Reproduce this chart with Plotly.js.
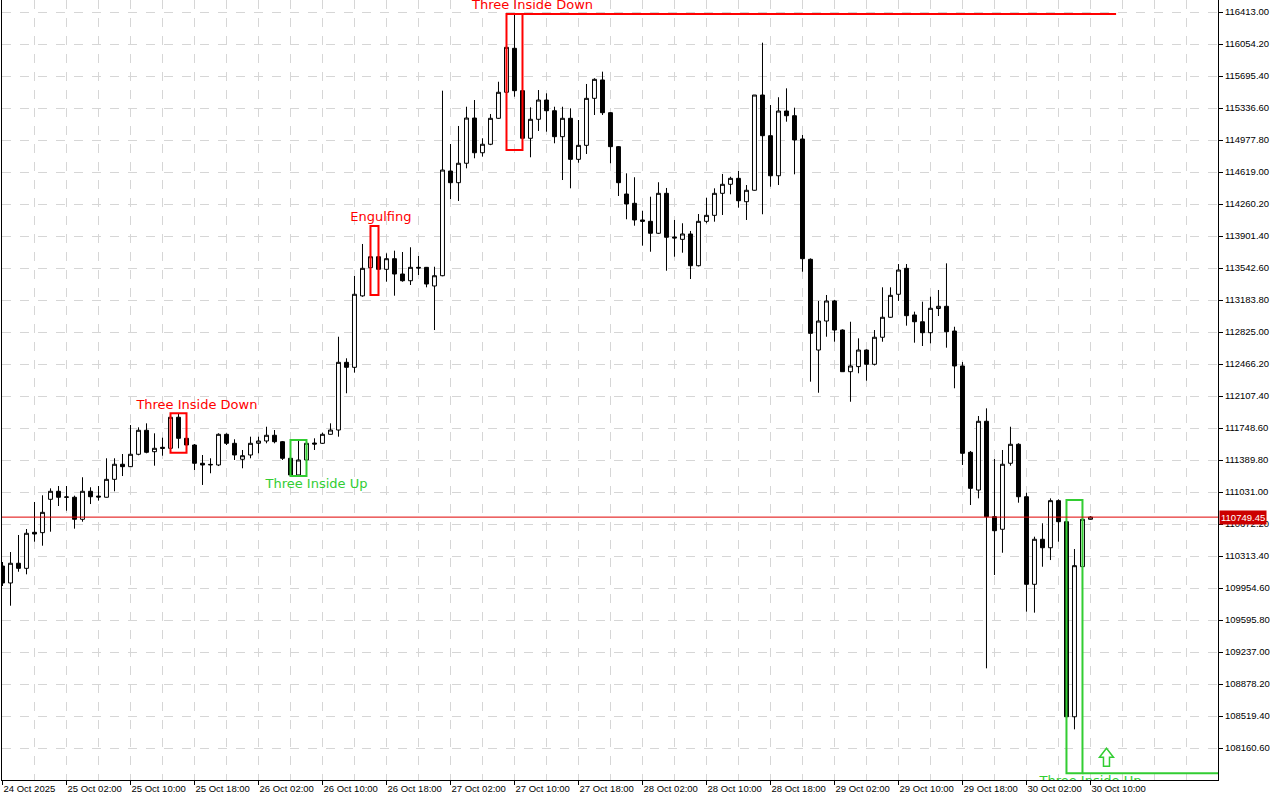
<!DOCTYPE html>
<html>
<head>
<meta charset="utf-8">
<script src="https://cdn.plot.ly/plotly-3.0.1.min.js"></script>
<style>html,body{margin:0;padding:0;background:#fff;}#chart{width:1280px;height:800px;}</style>
</head>
<body>
<div id="chart"></div>
<script>
// ---- data (hourly candles) ----
const startTime = "2025-10-24T18:00:00";
const openPrices = [110201,110011,110232,110175,110579,110575,110949,111039,110972,110972,110725,111039,110985,110972,111173,111342,111315,111454,111723,111483,111532,111521,111869,111633,111558,111353,111334,111334,111678,111577,111398,111446,111577,111603,111667,111595,111409,111222,111390,111580,111577,111678,111726,112485,112429,113230,113546,113669,113528,113647,113475,113400,113550,113550,113341,113456,114630,114499,114717,115224,114835,114930,115221,115513,116006,115531,114997,115210,115426,115306,115015,115221,114761,114918,115445,115651,115284,114903,114372,114268,114081,114066,113932,114380,113890,113864,113924,113568,114066,114133,114380,114481,114548,114286,114414,115482,115026,114577,115303,115250,114989,113640,112623,112948,113173,112847,112380,112437,112623,112463,112766,112990,113248,113539,113016,112940,112817,113088,113113,112836,112444,111476,111053,111824,110754,110613,111353,111566,110978,109996,110501,110406,110934,110698,108511,110194,110725];
const highPrices = [110246,110358,110549,110616,110919,110994,111072,111098,111098,110990,111196,111084,111098,111409,111409,111457,111782,111756,111801,111689,111640,111913,111913,111659,111569,111446,111409,111689,111689,111622,111502,111651,111651,111763,111726,111603,111446,111614,111614,111633,111696,111801,112772,112530,113453,113812,114013,113856,113707,113737,113722,113775,113677,113554,113557,115531,114933,115135,115351,115426,114997,115269,115631,116107,116391,115561,115344,115538,115501,115351,115351,115333,115202,115606,115670,115744,115290,114910,114604,114560,114185,114342,114504,114440,114081,114044,113958,114148,114331,114436,114597,114566,114630,114473,115482,116069,115370,115457,115557,115340,115034,113650,113173,113240,113185,112855,112940,112754,112630,112847,113326,113326,113587,113587,113053,113165,113221,113296,113595,112884,112489,111491,111883,111969,111401,111502,111763,111578,111023,110530,110680,110960,110949,110717,110392,110941,110760];
const lowPrices = [109977,109756,110137,110108,110474,110429,110586,110874,110821,110620,110698,110896,110934,110970,111039,111210,111310,111443,111465,111326,111438,111515,111521,111472,111278,111110,111241,111322,111558,111390,111297,111409,111465,111577,111577,111390,111210,111210,111334,111502,111569,111675,111651,112138,112369,113220,113240,113464,113389,113232,113389,113352,113464,113326,112847,113450,114316,114294,114660,114773,114791,114920,115215,115314,115463,114866,114784,115079,115071,114941,114529,114436,114723,114821,115258,115258,114717,114350,114089,114017,113793,113725,113925,113512,113669,113714,113419,113560,114044,114062,114137,114369,114219,114081,114410,114145,114454,114473,115183,114593,113501,112268,112144,112772,112716,112377,112043,112362,112279,112450,112716,112985,113173,112896,112705,112668,112698,113004,112649,112194,111334,110885,110960,109054,110100,110350,111326,110911,109689,109678,110193,110268,110474,107877,108370,109940,110720];
const closePrices = [110011,110232,110175,110568,110560,110803,111039,110972,110975,110725,111039,110978,110975,111173,111342,111315,111454,111723,111476,111521,111521,111869,111633,111558,111353,111334,111340,111678,111577,111446,111438,111577,111603,111667,111595,111409,111222,111390,111577,111569,111678,111726,112485,112429,113248,113539,113669,113528,113647,113475,113400,113550,113543,113363,113456,114641,114499,114717,115224,114835,114930,115221,115513,116017,115531,114997,115210,115426,115306,115015,115221,114761,114918,115445,115658,115284,114903,114499,114260,114081,114066,113932,114380,113887,113880,113924,113568,114066,114133,114380,114481,114548,114297,114414,115482,115026,114577,115303,115250,114978,113647,112810,112948,113173,112847,112380,112444,112623,112463,112766,112990,113236,113520,113008,112940,112817,113091,113113,112828,112444,111465,111072,111824,110754,110597,111342,111566,110978,109996,110501,110406,110934,110698,108511,110205,110725,110749.45];

// tick labels
const priceTicks = [116413.00,116054.20,115695.40,115336.60,114977.80,114619.00,114260.20,113901.40,113542.60,113183.80,112825.00,112466.20,112107.40,111748.60,111389.80,111031.00,110672.20,110313.40,109954.60,109595.80,109237.00,108878.20,108519.40,108160.60];
const timeTickLabels = ["24 Oct 2025","25 Oct 02:00","25 Oct 10:00","25 Oct 18:00","26 Oct 02:00","26 Oct 10:00","26 Oct 18:00","27 Oct 02:00","27 Oct 10:00","27 Oct 18:00","28 Oct 02:00","28 Oct 10:00","28 Oct 18:00","29 Oct 02:00","29 Oct 10:00","29 Oct 18:00","30 Oct 02:00","30 Oct 10:00"];

// candlestick patterns found on the chart
const patternNames = ["Three Inside Down","Three Inside Up","Engulfing","Three Inside Down","Three Inside Up"];
const patternFirst = [21,36,46,63,133];
const patternLast  = [23,38,47,65,135];
const patternKind  = ["bear","bull","bear","bear","bull"];

// ---- helpers ----
const HOUR = 3600e3;
const t0 = new Date(startTime + "Z").getTime();
function tAt(h){ const d = new Date(t0 + h*HOUR); return d.toISOString().replace("T"," ").slice(0,19); }
const times = openPrices.map((_,i)=>tAt(i));

const RED = "#ff0000", GREEN = "#32cd32";
const PX = 11.2125; // price per pixel of the vertical scale

const traces = [{
  type:"candlestick", x:times, open:openPrices, high:highPrices, low:lowPrices, close:closePrices,
  increasing:{line:{color:"#000",width:1}, fillcolor:"#fff"},
  decreasing:{line:{color:"#000",width:1}, fillcolor:"#000"},
  whiskerwidth:0, hoverinfo:"none", showlegend:false
}];

const shapes = [];
const labelOffsets = [2.3, 2.25, 0.8, 2.25, 2.0];
patternNames.forEach((name,k)=>{
  const a = patternFirst[k], b = patternLast[k];
  const hi = Math.max(...highPrices.slice(a,b+1));
  const lo = Math.min(...lowPrices.slice(a,b+1));
  const col = patternKind[k]==="bear" ? RED : GREEN;
  shapes.push({type:"rect", xref:"x", yref:"y", x0:times[a], x1:times[b], y0:lo, y1:hi,
               line:{color:col,width:2}, fillcolor:"rgba(0,0,0,0)", layer:"above"});
  const above = patternKind[k]==="bear";
  traces.push({type:"scatter", mode:"text", x:[tAt((a+b)/2 + labelOffsets[k])],
    y:[above ? hi + 8*PX : lo - 8.5*PX], text:[name], textposition:"middle center",
    textfont:{family:"DejaVu Sans", size:13, color:col}, cliponaxis:true,
    hoverinfo:"none", showlegend:false});
});
// extension of the latest bearish pattern top, and latest bullish pattern bottom
{
  const a = patternFirst[3], b = patternLast[3];
  const hi = Math.max(...highPrices.slice(a,b+1));
  shapes.push({type:"line", xref:"x", yref:"y", x0:times[b], x1:tAt(139.2), y0:hi, y1:hi, line:{color:RED,width:2}});
  const a2 = patternFirst[4], b2 = patternLast[4];
  const lo = Math.min(...lowPrices.slice(a2,b2+1));
  shapes.push({type:"line", xref:"x", yref:"y", x0:times[b2], x1:tAt(160), y0:lo, y1:lo, line:{color:GREEN,width:2}});
  // hollow up-arrow signal
  shapes.push({type:"path", xref:"x", yref:"y", xsizemode:"pixel", ysizemode:"pixel",
    xanchor:tAt(138), yanchor:lo,
    path:"M -3 7 L 3 7 L 3 16 L 7 16 L 0 25 L -7 16 L -3 16 Z",
    line:{color:GREEN,width:1.5}, fillcolor:"#fff", layer:"above"});
}
// current price line
const last = closePrices[closePrices.length-1];
shapes.push({type:"line", xref:"paper", yref:"y", x0:0, x1:1, y0:last, y1:last, line:{color:"#e00000",width:1}, layer:"above"});

const xTickVals = timeTickLabels.map((_,j)=>tAt(j*8));
const layout = {
  width:1280, height:800,
  margin:{l:2, r:62, t:0, b:20, pad:0},
  paper_bgcolor:"#fff", plot_bgcolor:"#fff",
  showlegend:false, dragmode:false,
  font:{family:"Liberation Sans, Arial, sans-serif", size:9.5, color:"#000"},
  xaxis:{type:"date", range:[tAt(-0.0625), tAt(151.94)], rangeslider:{visible:false},
    tickmode:"array", tickvals:xTickVals, ticktext:timeTickLabels,
    ticklabelposition:"outside right", ticks:"outside", ticklen:4, tickcolor:"#000",
    showgrid:true, gridcolor:"#d6d6d6", griddash:"dash", gridwidth:1,
    minor:{dtick:4*HOUR, tick0:tAt(0), showgrid:true, gridcolor:"#d6d6d6", griddash:"dash", ticks:""},
    showline:true, linecolor:"#000", linewidth:1, mirror:true, zeroline:false,
    tickfont:{size:9.5}, fixedrange:true},
  yaxis:{side:"right", range:[116413-768*PX, 116413+12*PX],
    tickmode:"array", tickvals:priceTicks, ticktext:priceTicks.map(v=>v.toFixed(2)),
    ticks:"outside", ticklen:4, tickcolor:"#000",
    showgrid:true, gridcolor:"#d6d6d6", griddash:"dash", gridwidth:1,
    showline:true, linecolor:"#000", linewidth:1, mirror:true, zeroline:false,
    tickfont:{size:9.5}, fixedrange:true},
  shapes:shapes,
  annotations:[{xref:"paper", yref:"y", x:1, y:last, xanchor:"left", yanchor:"middle", xshift:1,
    text:last.toFixed(2), showarrow:false, bgcolor:"#cc0000", font:{color:"#fff", size:9.5}, borderpad:1}]
};
Plotly.newPlot("chart", traces, layout, {staticPlot:true, displayModeBar:false});
</script>
</body>
</html>
